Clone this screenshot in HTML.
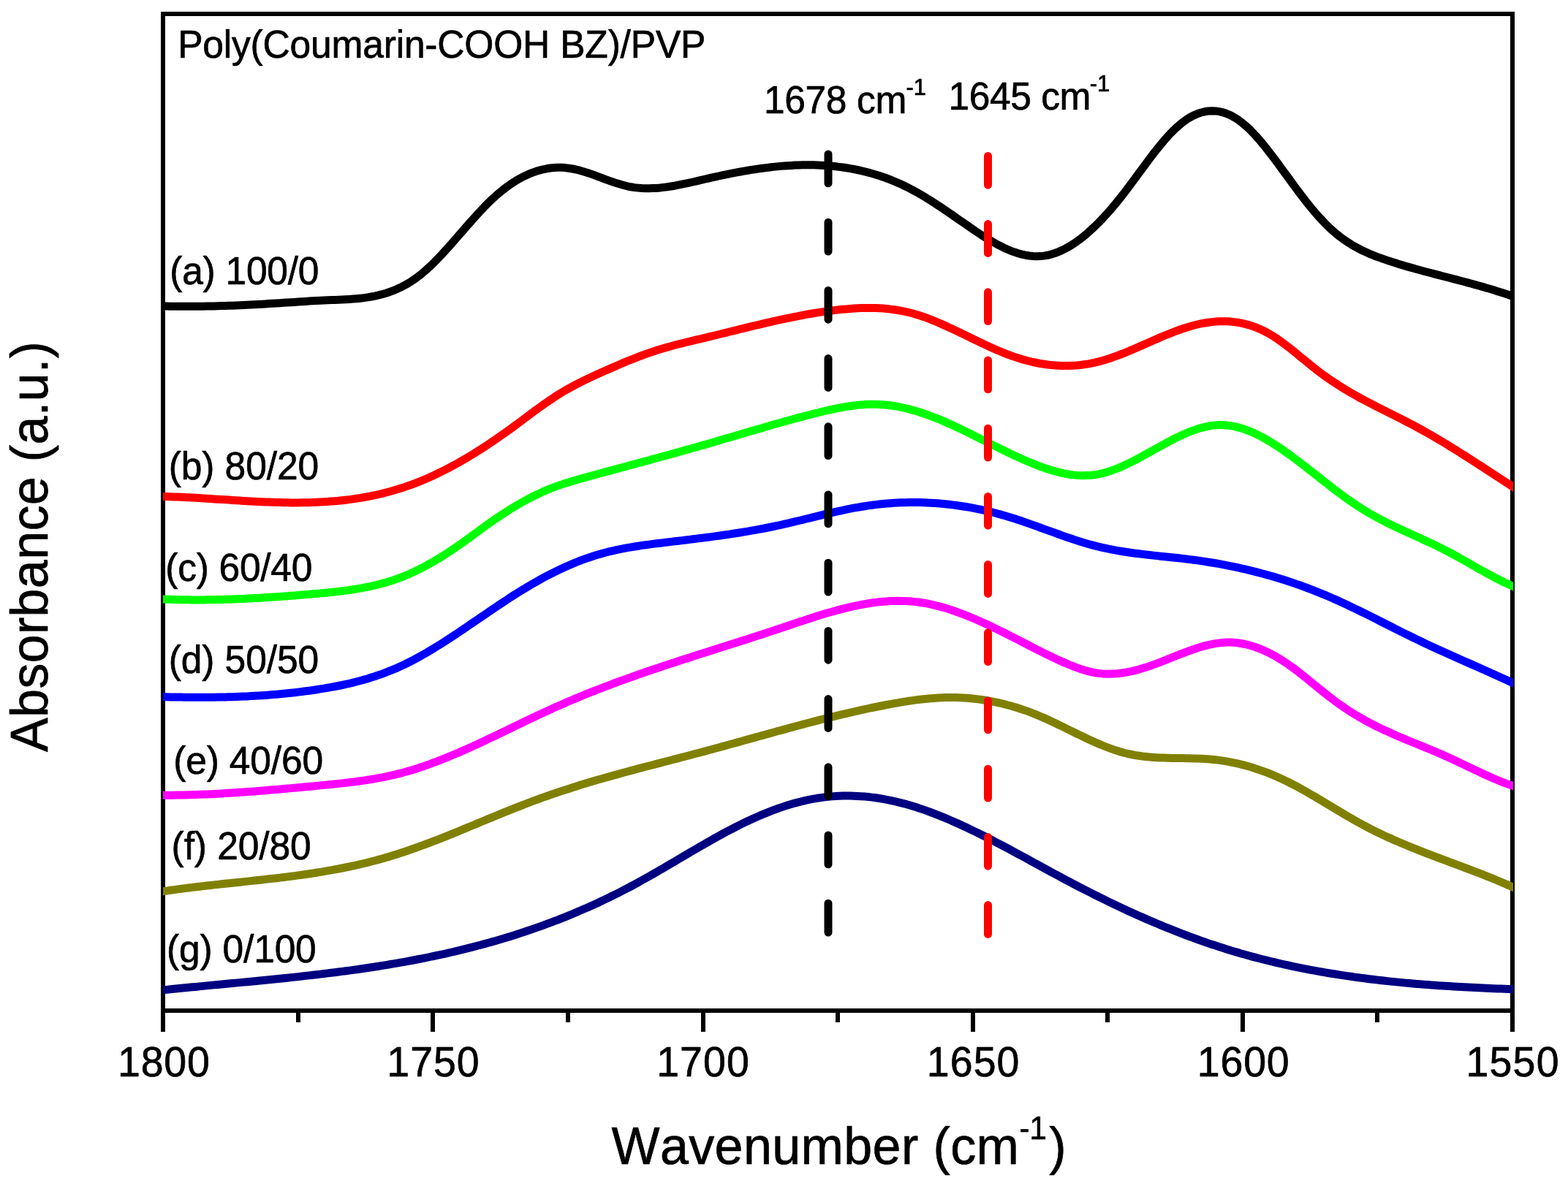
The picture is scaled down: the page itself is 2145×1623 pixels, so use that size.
<!DOCTYPE html>
<html lang="en">
<head>
<meta charset="utf-8">
<title>FTIR spectra of Poly(Coumarin-COOH BZ)/PVP blends</title>
<style>
html,body{margin:0;padding:0;background:#fff;}
body{width:2145px;height:1623px;overflow:hidden;}
svg{display:block;}
text{font-family:"Liberation Sans",Arial,Helvetica,sans-serif;fill:#000;stroke:#000;stroke-width:0.7px;stroke-linejoin:round;font-kerning:none;white-space:pre;}
.curve{fill:none;stroke-width:11;stroke-linejoin:round;stroke-linecap:butt;}
.axis rect{fill:#000;shape-rendering:crispEdges;}
.dash{fill:none;stroke-width:11;stroke-linecap:round;stroke-dasharray:39.8 53.4;}
</style>
</head>
<body>
<svg width="2145" height="1623" viewBox="0 0 2145 1623">
<rect x="0" y="0" width="2145" height="1623" fill="#ffffff"/>

<g class="axis">
<rect x="220" y="16" width="6" height="1396"/>
<rect x="2066" y="16" width="6" height="1396"/>
<rect x="220" y="16" width="1852" height="6"/>
<rect x="220" y="1380" width="1852" height="6"/>
<rect x="589" y="1383" width="6" height="29"/>
<rect x="959" y="1383" width="6" height="29"/>
<rect x="1328" y="1383" width="6" height="29"/>
<rect x="1697" y="1383" width="6" height="29"/>
<rect x="405" y="1383" width="6" height="16"/>
<rect x="774" y="1383" width="6" height="16"/>
<rect x="1143" y="1383" width="6" height="16"/>
<rect x="1512" y="1383" width="6" height="16"/>
<rect x="1881" y="1383" width="6" height="16"/>
</g>
<defs><clipPath id="plot"><rect x="223" y="22" width="1847" height="1358"/></clipPath></defs>
<g clip-path="url(#plot)">
<path class="curve" stroke="#000000" d="M213.0,418.8 L218.0,418.9 L223.0,419.0 L228.0,419.1 L233.0,419.2 L238.0,419.2 L243.0,419.3 L248.0,419.3 L253.0,419.3 L258.0,419.3 L263.0,419.3 L268.0,419.3 L273.0,419.2 L278.0,419.2 L283.0,419.1 L288.0,419.0 L293.0,418.9 L298.0,418.8 L303.0,418.6 L308.0,418.5 L313.0,418.3 L318.0,418.2 L323.0,418.0 L328.0,417.8 L333.0,417.5 L338.0,417.3 L343.0,417.1 L348.0,416.8 L353.0,416.5 L358.0,416.2 L363.0,415.9 L368.0,415.6 L373.0,415.3 L378.0,415.0 L383.0,414.7 L388.0,414.3 L393.0,414.0 L398.0,413.7 L403.0,413.4 L408.0,413.0 L413.0,412.7 L418.0,412.4 L423.0,412.1 L428.0,411.8 L433.0,411.5 L438.0,411.3 L443.0,411.0 L448.0,410.8 L453.0,410.6 L458.0,410.4 L463.0,410.2 L468.0,410.0 L473.0,409.7 L478.0,409.4 L483.0,409.1 L488.0,408.7 L493.0,408.2 L498.0,407.6 L503.0,406.9 L508.0,406.0 L513.0,405.1 L518.0,403.9 L523.0,402.7 L528.0,401.2 L533.0,399.5 L538.0,397.7 L543.0,395.6 L548.0,393.3 L553.0,390.7 L558.0,387.9 L563.0,384.8 L568.0,381.4 L573.0,377.7 L578.0,373.7 L583.0,369.4 L588.0,364.8 L593.0,360.0 L598.0,354.9 L603.0,349.7 L608.0,344.3 L613.0,338.8 L618.0,333.1 L623.0,327.4 L628.0,321.7 L633.0,316.0 L638.0,310.2 L643.0,304.5 L648.0,298.9 L653.0,293.4 L658.0,288.0 L663.0,282.7 L668.0,277.7 L673.0,272.8 L678.0,268.2 L683.0,263.9 L688.0,259.8 L693.0,256.0 L698.0,252.4 L703.0,249.1 L708.0,246.0 L713.0,243.2 L718.0,240.7 L723.0,238.4 L728.0,236.4 L733.0,234.6 L738.0,233.1 L743.0,231.8 L748.0,230.8 L753.0,230.0 L758.0,229.6 L763.0,229.3 L768.0,229.3 L773.0,229.6 L778.0,230.2 L783.0,231.0 L788.0,232.0 L793.0,233.2 L798.0,234.7 L803.0,236.2 L808.0,237.9 L813.0,239.7 L818.0,241.6 L823.0,243.4 L828.0,245.3 L833.0,247.1 L838.0,248.9 L843.0,250.6 L848.0,252.1 L853.0,253.5 L858.0,254.8 L863.0,255.8 L868.0,256.6 L873.0,257.1 L878.0,257.5 L883.0,257.7 L888.0,257.8 L893.0,257.6 L898.0,257.4 L903.0,257.0 L908.0,256.4 L913.0,255.8 L918.0,255.0 L923.0,254.2 L928.0,253.2 L933.0,252.2 L938.0,251.2 L943.0,250.1 L948.0,249.0 L953.0,247.8 L958.0,246.7 L963.0,245.5 L968.0,244.3 L973.0,243.2 L978.0,242.1 L983.0,241.0 L988.0,239.9 L993.0,238.9 L998.0,237.9 L1003.0,236.9 L1008.0,235.9 L1013.0,235.0 L1018.0,234.1 L1023.0,233.3 L1028.0,232.4 L1033.0,231.7 L1038.0,230.9 L1043.0,230.2 L1048.0,229.6 L1053.0,229.0 L1058.0,228.4 L1063.0,227.9 L1068.0,227.4 L1073.0,227.0 L1078.0,226.7 L1083.0,226.4 L1088.0,226.1 L1093.0,225.9 L1098.0,225.8 L1103.0,225.8 L1108.0,225.8 L1113.0,225.8 L1118.0,226.0 L1123.0,226.2 L1128.0,226.5 L1133.0,226.8 L1138.0,227.3 L1143.0,227.8 L1148.0,228.4 L1153.0,229.0 L1158.0,229.8 L1163.0,230.6 L1168.0,231.5 L1173.0,232.5 L1178.0,233.6 L1183.0,234.8 L1188.0,236.1 L1193.0,237.5 L1198.0,239.0 L1203.0,240.6 L1208.0,242.2 L1213.0,244.0 L1218.0,245.9 L1223.0,248.0 L1228.0,250.1 L1233.0,252.3 L1238.0,254.7 L1243.0,257.2 L1248.0,259.8 L1253.0,262.5 L1258.0,265.3 L1263.0,268.2 L1268.0,271.3 L1273.0,274.4 L1278.0,277.6 L1283.0,280.9 L1288.0,284.2 L1293.0,287.6 L1298.0,291.0 L1303.0,294.4 L1308.0,297.9 L1313.0,301.4 L1318.0,304.8 L1323.0,308.3 L1328.0,311.8 L1333.0,315.2 L1338.0,318.5 L1343.0,321.8 L1348.0,325.0 L1353.0,328.0 L1358.0,331.0 L1363.0,333.8 L1368.0,336.4 L1373.0,338.9 L1378.0,341.2 L1383.0,343.3 L1388.0,345.1 L1393.0,346.7 L1398.0,348.1 L1403.0,349.2 L1408.0,350.0 L1413.0,350.5 L1418.0,350.7 L1423.0,350.6 L1428.0,350.1 L1433.0,349.3 L1438.0,348.1 L1443.0,346.5 L1448.0,344.6 L1453.0,342.4 L1458.0,339.9 L1463.0,337.1 L1468.0,334.0 L1473.0,330.6 L1478.0,326.9 L1483.0,323.0 L1488.0,318.7 L1493.0,314.2 L1498.0,309.5 L1503.0,304.6 L1508.0,299.4 L1513.0,293.9 L1518.0,288.3 L1523.0,282.5 L1528.0,276.4 L1533.0,270.2 L1538.0,263.8 L1543.0,257.2 L1548.0,250.5 L1553.0,243.8 L1558.0,237.0 L1563.0,230.2 L1568.0,223.4 L1573.0,216.7 L1578.0,210.2 L1583.0,203.8 L1588.0,197.7 L1593.0,191.7 L1598.0,186.1 L1603.0,180.8 L1608.0,175.9 L1613.0,171.4 L1618.0,167.3 L1623.0,163.7 L1628.0,160.5 L1633.0,157.9 L1638.0,155.7 L1643.0,154.0 L1648.0,152.8 L1653.0,152.0 L1658.0,151.7 L1663.0,151.9 L1668.0,152.6 L1673.0,153.8 L1678.0,155.5 L1683.0,157.6 L1688.0,160.3 L1693.0,163.4 L1698.0,167.1 L1703.0,171.2 L1708.0,175.7 L1713.0,180.7 L1718.0,186.0 L1723.0,191.7 L1728.0,197.6 L1733.0,203.8 L1738.0,210.3 L1743.0,216.8 L1748.0,223.6 L1753.0,230.4 L1758.0,237.2 L1763.0,244.1 L1768.0,251.0 L1773.0,257.7 L1778.0,264.4 L1783.0,271.0 L1788.0,277.4 L1793.0,283.6 L1798.0,289.6 L1803.0,295.3 L1808.0,300.8 L1813.0,306.1 L1818.0,311.0 L1823.0,315.6 L1828.0,319.9 L1833.0,323.9 L1838.0,327.6 L1843.0,331.0 L1848.0,334.2 L1853.0,337.2 L1858.0,339.9 L1863.0,342.5 L1868.0,344.8 L1873.0,347.1 L1878.0,349.1 L1883.0,351.1 L1888.0,352.9 L1893.0,354.7 L1898.0,356.4 L1903.0,358.0 L1908.0,359.6 L1913.0,361.2 L1918.0,362.7 L1923.0,364.2 L1928.0,365.6 L1933.0,367.1 L1938.0,368.5 L1943.0,369.8 L1948.0,371.2 L1953.0,372.5 L1958.0,373.8 L1963.0,375.1 L1968.0,376.4 L1973.0,377.7 L1978.0,379.0 L1983.0,380.3 L1988.0,381.6 L1993.0,382.9 L1998.0,384.2 L2003.0,385.5 L2008.0,386.9 L2013.0,388.2 L2018.0,389.6 L2023.0,391.0 L2028.0,392.4 L2033.0,393.9 L2038.0,395.3 L2043.0,396.8 L2048.0,398.4 L2053.0,400.0 L2058.0,401.6 L2063.0,403.3 L2068.0,405.0 L2073.0,406.8 L2078.0,408.6"/>
<path class="curve" stroke="#ff0000" d="M213.0,679.3 L218.0,679.4 L223.0,679.5 L228.0,679.6 L233.0,679.8 L238.0,679.9 L243.0,680.1 L248.0,680.3 L253.0,680.6 L258.0,680.8 L263.0,681.1 L268.0,681.3 L273.0,681.6 L278.0,681.9 L283.0,682.2 L288.0,682.5 L293.0,682.9 L298.0,683.2 L303.0,683.5 L308.0,683.8 L313.0,684.1 L318.0,684.5 L323.0,684.8 L328.0,685.1 L333.0,685.4 L338.0,685.7 L343.0,686.0 L348.0,686.2 L353.0,686.5 L358.0,686.7 L363.0,686.9 L368.0,687.1 L373.0,687.3 L378.0,687.5 L383.0,687.6 L388.0,687.7 L393.0,687.8 L398.0,687.9 L403.0,687.9 L408.0,687.9 L413.0,687.8 L418.0,687.8 L423.0,687.7 L428.0,687.5 L433.0,687.3 L438.0,687.1 L443.0,686.8 L448.0,686.5 L453.0,686.1 L458.0,685.7 L463.0,685.3 L468.0,684.7 L473.0,684.2 L478.0,683.6 L483.0,682.9 L488.0,682.1 L493.0,681.4 L498.0,680.5 L503.0,679.6 L508.0,678.6 L513.0,677.6 L518.0,676.5 L523.0,675.3 L528.0,674.0 L533.0,672.7 L538.0,671.3 L543.0,669.8 L548.0,668.3 L553.0,666.7 L558.0,664.9 L563.0,663.2 L568.0,661.3 L573.0,659.3 L578.0,657.3 L583.0,655.2 L588.0,653.0 L593.0,650.7 L598.0,648.3 L603.0,645.9 L608.0,643.4 L613.0,640.8 L618.0,638.2 L623.0,635.5 L628.0,632.7 L633.0,629.8 L638.0,626.9 L643.0,623.9 L648.0,620.9 L653.0,617.7 L658.0,614.6 L663.0,611.3 L668.0,608.0 L673.0,604.7 L678.0,601.3 L683.0,597.8 L688.0,594.3 L693.0,590.8 L698.0,587.2 L703.0,583.5 L708.0,579.8 L713.0,576.1 L718.0,572.4 L723.0,568.6 L728.0,564.9 L733.0,561.2 L738.0,557.6 L743.0,554.0 L748.0,550.5 L753.0,547.1 L758.0,543.7 L763.0,540.5 L768.0,537.4 L773.0,534.4 L778.0,531.6 L783.0,528.9 L788.0,526.2 L793.0,523.7 L798.0,521.2 L803.0,518.8 L808.0,516.4 L813.0,514.1 L818.0,511.8 L823.0,509.5 L828.0,507.3 L833.0,505.1 L838.0,502.9 L843.0,500.7 L848.0,498.5 L853.0,496.4 L858.0,494.3 L863.0,492.3 L868.0,490.3 L873.0,488.4 L878.0,486.5 L883.0,484.7 L888.0,482.9 L893.0,481.2 L898.0,479.6 L903.0,478.0 L908.0,476.5 L913.0,475.1 L918.0,473.7 L923.0,472.3 L928.0,471.0 L933.0,469.8 L938.0,468.5 L943.0,467.3 L948.0,466.1 L953.0,464.9 L958.0,463.8 L963.0,462.6 L968.0,461.4 L973.0,460.2 L978.0,459.0 L983.0,457.7 L988.0,456.5 L993.0,455.3 L998.0,454.0 L1003.0,452.8 L1008.0,451.6 L1013.0,450.3 L1018.0,449.1 L1023.0,447.9 L1028.0,446.7 L1033.0,445.5 L1038.0,444.3 L1043.0,443.1 L1048.0,441.9 L1053.0,440.8 L1058.0,439.6 L1063.0,438.5 L1068.0,437.4 L1073.0,436.3 L1078.0,435.3 L1083.0,434.3 L1088.0,433.3 L1093.0,432.3 L1098.0,431.3 L1103.0,430.4 L1108.0,429.5 L1113.0,428.7 L1118.0,427.9 L1123.0,427.1 L1128.0,426.4 L1133.0,425.7 L1138.0,425.0 L1143.0,424.4 L1148.0,423.8 L1153.0,423.3 L1158.0,422.9 L1163.0,422.5 L1168.0,422.1 L1173.0,421.8 L1178.0,421.6 L1183.0,421.5 L1188.0,421.4 L1193.0,421.5 L1198.0,421.6 L1203.0,421.8 L1208.0,422.1 L1213.0,422.5 L1218.0,423.1 L1223.0,423.7 L1228.0,424.5 L1233.0,425.4 L1238.0,426.4 L1243.0,427.5 L1248.0,428.8 L1253.0,430.2 L1258.0,431.8 L1263.0,433.4 L1268.0,435.2 L1273.0,437.1 L1278.0,439.1 L1283.0,441.2 L1288.0,443.4 L1293.0,445.6 L1298.0,447.9 L1303.0,450.2 L1308.0,452.6 L1313.0,455.0 L1318.0,457.4 L1323.0,459.9 L1328.0,462.3 L1333.0,464.7 L1338.0,467.1 L1343.0,469.5 L1348.0,471.9 L1353.0,474.2 L1358.0,476.5 L1363.0,478.7 L1368.0,480.8 L1373.0,482.8 L1378.0,484.8 L1383.0,486.7 L1388.0,488.4 L1393.0,490.0 L1398.0,491.6 L1403.0,493.0 L1408.0,494.3 L1413.0,495.5 L1418.0,496.5 L1423.0,497.5 L1428.0,498.3 L1433.0,499.0 L1438.0,499.6 L1443.0,500.0 L1448.0,500.3 L1453.0,500.5 L1458.0,500.6 L1463.0,500.5 L1468.0,500.3 L1473.0,500.0 L1478.0,499.5 L1483.0,498.8 L1488.0,498.1 L1493.0,497.2 L1498.0,496.1 L1503.0,494.9 L1508.0,493.5 L1513.0,492.1 L1518.0,490.5 L1523.0,488.7 L1528.0,486.9 L1533.0,485.0 L1538.0,483.1 L1543.0,481.0 L1548.0,478.9 L1553.0,476.8 L1558.0,474.6 L1563.0,472.4 L1568.0,470.2 L1573.0,468.0 L1578.0,465.8 L1583.0,463.6 L1588.0,461.4 L1593.0,459.3 L1598.0,457.3 L1603.0,455.3 L1608.0,453.4 L1613.0,451.5 L1618.0,449.8 L1623.0,448.2 L1628.0,446.7 L1633.0,445.3 L1638.0,444.0 L1643.0,442.9 L1648.0,442.0 L1653.0,441.2 L1658.0,440.6 L1663.0,440.1 L1668.0,439.8 L1673.0,439.7 L1678.0,439.8 L1683.0,440.1 L1688.0,440.6 L1693.0,441.2 L1698.0,442.1 L1703.0,443.3 L1708.0,444.6 L1713.0,446.2 L1718.0,448.0 L1723.0,450.1 L1728.0,452.4 L1733.0,455.0 L1738.0,457.8 L1743.0,460.9 L1748.0,464.2 L1753.0,467.8 L1758.0,471.5 L1763.0,475.3 L1768.0,479.3 L1773.0,483.3 L1778.0,487.4 L1783.0,491.5 L1788.0,495.6 L1793.0,499.7 L1798.0,503.7 L1803.0,507.6 L1808.0,511.4 L1813.0,515.0 L1818.0,518.5 L1823.0,521.9 L1828.0,525.2 L1833.0,528.4 L1838.0,531.5 L1843.0,534.5 L1848.0,537.4 L1853.0,540.3 L1858.0,543.1 L1863.0,545.8 L1868.0,548.5 L1873.0,551.1 L1878.0,553.7 L1883.0,556.3 L1888.0,558.8 L1893.0,561.3 L1898.0,563.9 L1903.0,566.4 L1908.0,568.9 L1913.0,571.4 L1918.0,573.9 L1923.0,576.5 L1928.0,579.1 L1933.0,581.7 L1938.0,584.4 L1943.0,587.1 L1948.0,589.9 L1953.0,592.7 L1958.0,595.6 L1963.0,598.5 L1968.0,601.4 L1973.0,604.4 L1978.0,607.4 L1983.0,610.5 L1988.0,613.6 L1993.0,616.7 L1998.0,619.8 L2003.0,623.0 L2008.0,626.2 L2013.0,629.4 L2018.0,632.6 L2023.0,635.8 L2028.0,639.0 L2033.0,642.3 L2038.0,645.6 L2043.0,648.8 L2048.0,652.1 L2053.0,655.3 L2058.0,658.6 L2063.0,661.8 L2068.0,665.1 L2073.0,668.3 L2078.0,671.6"/>
<path class="curve" stroke="#00ff00" d="M213.0,819.6 L218.0,819.8 L223.0,820.0 L228.0,820.2 L233.0,820.3 L238.0,820.5 L243.0,820.6 L248.0,820.7 L253.0,820.8 L258.0,820.8 L263.0,820.9 L268.0,820.9 L273.0,820.9 L278.0,820.9 L283.0,820.8 L288.0,820.8 L293.0,820.7 L298.0,820.6 L303.0,820.5 L308.0,820.3 L313.0,820.2 L318.0,820.0 L323.0,819.8 L328.0,819.6 L333.0,819.4 L338.0,819.1 L343.0,818.9 L348.0,818.6 L353.0,818.4 L358.0,818.1 L363.0,817.8 L368.0,817.5 L373.0,817.1 L378.0,816.8 L383.0,816.4 L388.0,816.1 L393.0,815.7 L398.0,815.3 L403.0,814.9 L408.0,814.5 L413.0,814.1 L418.0,813.7 L423.0,813.3 L428.0,812.8 L433.0,812.4 L438.0,811.9 L443.0,811.5 L448.0,811.0 L453.0,810.5 L458.0,809.9 L463.0,809.4 L468.0,808.8 L473.0,808.1 L478.0,807.5 L483.0,806.7 L488.0,805.9 L493.0,805.1 L498.0,804.2 L503.0,803.2 L508.0,802.1 L513.0,801.0 L518.0,799.7 L523.0,798.4 L528.0,797.0 L533.0,795.5 L538.0,793.9 L543.0,792.1 L548.0,790.3 L553.0,788.3 L558.0,786.2 L563.0,784.0 L568.0,781.7 L573.0,779.3 L578.0,776.7 L583.0,774.1 L588.0,771.3 L593.0,768.5 L598.0,765.5 L603.0,762.5 L608.0,759.3 L613.0,756.1 L618.0,752.8 L623.0,749.4 L628.0,745.9 L633.0,742.4 L638.0,738.8 L643.0,735.2 L648.0,731.5 L653.0,727.9 L658.0,724.3 L663.0,720.6 L668.0,717.1 L673.0,713.5 L678.0,710.0 L683.0,706.6 L688.0,703.3 L693.0,700.1 L698.0,696.9 L703.0,693.8 L708.0,690.9 L713.0,688.0 L718.0,685.2 L723.0,682.5 L728.0,679.9 L733.0,677.5 L738.0,675.1 L743.0,672.8 L748.0,670.6 L753.0,668.6 L758.0,666.6 L763.0,664.8 L768.0,663.1 L773.0,661.4 L778.0,659.9 L783.0,658.4 L788.0,656.9 L793.0,655.5 L798.0,654.1 L803.0,652.8 L808.0,651.4 L813.0,650.0 L818.0,648.7 L823.0,647.3 L828.0,645.9 L833.0,644.6 L838.0,643.2 L843.0,641.9 L848.0,640.5 L853.0,639.2 L858.0,637.8 L863.0,636.5 L868.0,635.1 L873.0,633.8 L878.0,632.4 L883.0,631.1 L888.0,629.7 L893.0,628.3 L898.0,627.0 L903.0,625.6 L908.0,624.2 L913.0,622.9 L918.0,621.5 L923.0,620.1 L928.0,618.7 L933.0,617.3 L938.0,615.9 L943.0,614.5 L948.0,613.1 L953.0,611.7 L958.0,610.3 L963.0,608.9 L968.0,607.4 L973.0,606.0 L978.0,604.5 L983.0,603.1 L988.0,601.6 L993.0,600.1 L998.0,598.7 L1003.0,597.2 L1008.0,595.7 L1013.0,594.3 L1018.0,592.8 L1023.0,591.3 L1028.0,589.8 L1033.0,588.4 L1038.0,586.9 L1043.0,585.5 L1048.0,584.0 L1053.0,582.6 L1058.0,581.1 L1063.0,579.7 L1068.0,578.3 L1073.0,576.9 L1078.0,575.5 L1083.0,574.2 L1088.0,572.8 L1093.0,571.4 L1098.0,570.1 L1103.0,568.8 L1108.0,567.5 L1113.0,566.2 L1118.0,565.0 L1123.0,563.7 L1128.0,562.5 L1133.0,561.4 L1138.0,560.3 L1143.0,559.2 L1148.0,558.2 L1153.0,557.3 L1158.0,556.4 L1163.0,555.7 L1168.0,555.0 L1173.0,554.4 L1178.0,553.9 L1183.0,553.6 L1188.0,553.3 L1193.0,553.2 L1198.0,553.3 L1203.0,553.4 L1208.0,553.7 L1213.0,554.2 L1218.0,554.8 L1223.0,555.5 L1228.0,556.4 L1233.0,557.4 L1238.0,558.5 L1243.0,559.7 L1248.0,561.1 L1253.0,562.5 L1258.0,564.0 L1263.0,565.7 L1268.0,567.4 L1273.0,569.3 L1278.0,571.2 L1283.0,573.2 L1288.0,575.2 L1293.0,577.4 L1298.0,579.6 L1303.0,581.8 L1308.0,584.2 L1313.0,586.5 L1318.0,588.9 L1323.0,591.4 L1328.0,593.8 L1333.0,596.3 L1338.0,598.8 L1343.0,601.3 L1348.0,603.8 L1353.0,606.4 L1358.0,608.9 L1363.0,611.4 L1368.0,613.9 L1373.0,616.3 L1378.0,618.7 L1383.0,621.1 L1388.0,623.5 L1393.0,625.8 L1398.0,628.0 L1403.0,630.2 L1408.0,632.3 L1413.0,634.4 L1418.0,636.4 L1423.0,638.3 L1428.0,640.1 L1433.0,641.8 L1438.0,643.4 L1443.0,644.8 L1448.0,646.1 L1453.0,647.3 L1458.0,648.4 L1463.0,649.2 L1468.0,649.9 L1473.0,650.4 L1478.0,650.7 L1483.0,650.8 L1488.0,650.6 L1493.0,650.3 L1498.0,649.7 L1503.0,648.8 L1508.0,647.7 L1513.0,646.4 L1518.0,644.8 L1523.0,643.1 L1528.0,641.2 L1533.0,639.1 L1538.0,636.9 L1543.0,634.6 L1548.0,632.1 L1553.0,629.5 L1558.0,626.9 L1563.0,624.2 L1568.0,621.4 L1573.0,618.6 L1578.0,615.8 L1583.0,613.0 L1588.0,610.3 L1593.0,607.5 L1598.0,604.8 L1603.0,602.2 L1608.0,599.7 L1613.0,597.2 L1618.0,594.9 L1623.0,592.7 L1628.0,590.6 L1633.0,588.8 L1638.0,587.1 L1643.0,585.6 L1648.0,584.3 L1653.0,583.2 L1658.0,582.4 L1663.0,581.9 L1668.0,581.6 L1673.0,581.6 L1678.0,582.0 L1683.0,582.6 L1688.0,583.4 L1693.0,584.6 L1698.0,586.0 L1703.0,587.6 L1708.0,589.5 L1713.0,591.5 L1718.0,593.8 L1723.0,596.3 L1728.0,598.9 L1733.0,601.7 L1738.0,604.7 L1743.0,607.8 L1748.0,611.0 L1753.0,614.4 L1758.0,617.9 L1763.0,621.5 L1768.0,625.1 L1773.0,628.8 L1778.0,632.6 L1783.0,636.5 L1788.0,640.4 L1793.0,644.3 L1798.0,648.2 L1803.0,652.1 L1808.0,656.1 L1813.0,660.0 L1818.0,663.9 L1823.0,667.8 L1828.0,671.6 L1833.0,675.4 L1838.0,679.1 L1843.0,682.7 L1848.0,686.2 L1853.0,689.6 L1858.0,692.9 L1863.0,696.1 L1868.0,699.2 L1873.0,702.2 L1878.0,705.0 L1883.0,707.8 L1888.0,710.5 L1893.0,713.1 L1898.0,715.6 L1903.0,718.1 L1908.0,720.5 L1913.0,722.9 L1918.0,725.2 L1923.0,727.5 L1928.0,729.8 L1933.0,732.1 L1938.0,734.3 L1943.0,736.6 L1948.0,738.9 L1953.0,741.2 L1958.0,743.5 L1963.0,745.9 L1968.0,748.4 L1973.0,750.8 L1978.0,753.4 L1983.0,756.0 L1988.0,758.7 L1993.0,761.4 L1998.0,764.2 L2003.0,767.0 L2008.0,769.8 L2013.0,772.7 L2018.0,775.5 L2023.0,778.4 L2028.0,781.2 L2033.0,784.0 L2038.0,786.7 L2043.0,789.4 L2048.0,792.0 L2053.0,794.5 L2058.0,797.0 L2063.0,799.3 L2068.0,801.6 L2073.0,803.7 L2078.0,805.9"/>
<path class="curve" stroke="#0000ff" d="M213.0,953.4 L218.0,953.5 L223.0,953.6 L228.0,953.7 L233.0,953.9 L238.0,954.0 L243.0,954.1 L248.0,954.1 L253.0,954.2 L258.0,954.3 L263.0,954.3 L268.0,954.3 L273.0,954.3 L278.0,954.3 L283.0,954.3 L288.0,954.3 L293.0,954.2 L298.0,954.1 L303.0,954.1 L308.0,953.9 L313.0,953.8 L318.0,953.7 L323.0,953.5 L328.0,953.3 L333.0,953.1 L338.0,952.9 L343.0,952.6 L348.0,952.3 L353.0,952.0 L358.0,951.7 L363.0,951.4 L368.0,951.0 L373.0,950.6 L378.0,950.2 L383.0,949.7 L388.0,949.3 L393.0,948.8 L398.0,948.2 L403.0,947.7 L408.0,947.1 L413.0,946.5 L418.0,945.8 L423.0,945.2 L428.0,944.5 L433.0,943.7 L438.0,942.9 L443.0,942.1 L448.0,941.3 L453.0,940.4 L458.0,939.5 L463.0,938.5 L468.0,937.5 L473.0,936.4 L478.0,935.3 L483.0,934.1 L488.0,932.8 L493.0,931.5 L498.0,930.1 L503.0,928.7 L508.0,927.1 L513.0,925.5 L518.0,923.8 L523.0,922.1 L528.0,920.2 L533.0,918.2 L538.0,916.2 L543.0,914.1 L548.0,911.8 L553.0,909.5 L558.0,907.0 L563.0,904.5 L568.0,901.9 L573.0,899.1 L578.0,896.3 L583.0,893.5 L588.0,890.5 L593.0,887.5 L598.0,884.4 L603.0,881.3 L608.0,878.1 L613.0,874.9 L618.0,871.6 L623.0,868.3 L628.0,865.0 L633.0,861.6 L638.0,858.2 L643.0,854.8 L648.0,851.4 L653.0,848.0 L658.0,844.6 L663.0,841.2 L668.0,837.8 L673.0,834.4 L678.0,831.0 L683.0,827.6 L688.0,824.3 L693.0,821.0 L698.0,817.7 L703.0,814.5 L708.0,811.4 L713.0,808.2 L718.0,805.2 L723.0,802.2 L728.0,799.3 L733.0,796.4 L738.0,793.6 L743.0,790.8 L748.0,788.2 L753.0,785.6 L758.0,783.1 L763.0,780.6 L768.0,778.2 L773.0,775.9 L778.0,773.7 L783.0,771.6 L788.0,769.5 L793.0,767.5 L798.0,765.7 L803.0,763.9 L808.0,762.2 L813.0,760.5 L818.0,759.0 L823.0,757.6 L828.0,756.2 L833.0,754.9 L838.0,753.8 L843.0,752.6 L848.0,751.6 L853.0,750.6 L858.0,749.7 L863.0,748.8 L868.0,748.0 L873.0,747.2 L878.0,746.4 L883.0,745.7 L888.0,745.1 L893.0,744.4 L898.0,743.8 L903.0,743.2 L908.0,742.6 L913.0,742.0 L918.0,741.4 L923.0,740.8 L928.0,740.2 L933.0,739.6 L938.0,739.0 L943.0,738.4 L948.0,737.8 L953.0,737.1 L958.0,736.5 L963.0,735.9 L968.0,735.2 L973.0,734.6 L978.0,733.9 L983.0,733.2 L988.0,732.5 L993.0,731.8 L998.0,731.1 L1003.0,730.3 L1008.0,729.5 L1013.0,728.7 L1018.0,727.9 L1023.0,727.1 L1028.0,726.2 L1033.0,725.3 L1038.0,724.4 L1043.0,723.5 L1048.0,722.5 L1053.0,721.5 L1058.0,720.5 L1063.0,719.4 L1068.0,718.3 L1073.0,717.2 L1078.0,716.1 L1083.0,714.9 L1088.0,713.7 L1093.0,712.5 L1098.0,711.3 L1103.0,710.0 L1108.0,708.8 L1113.0,707.6 L1118.0,706.4 L1123.0,705.1 L1128.0,703.9 L1133.0,702.8 L1138.0,701.6 L1143.0,700.4 L1148.0,699.3 L1153.0,698.3 L1158.0,697.2 L1163.0,696.2 L1168.0,695.2 L1173.0,694.3 L1178.0,693.5 L1183.0,692.7 L1188.0,691.9 L1193.0,691.2 L1198.0,690.6 L1203.0,690.0 L1208.0,689.5 L1213.0,689.1 L1218.0,688.7 L1223.0,688.3 L1228.0,688.0 L1233.0,687.8 L1238.0,687.7 L1243.0,687.6 L1248.0,687.5 L1253.0,687.5 L1258.0,687.6 L1263.0,687.7 L1268.0,687.9 L1273.0,688.2 L1278.0,688.5 L1283.0,688.8 L1288.0,689.3 L1293.0,689.7 L1298.0,690.3 L1303.0,690.9 L1308.0,691.5 L1313.0,692.2 L1318.0,693.0 L1323.0,693.8 L1328.0,694.7 L1333.0,695.7 L1338.0,696.7 L1343.0,697.7 L1348.0,698.8 L1353.0,700.0 L1358.0,701.2 L1363.0,702.5 L1368.0,703.9 L1373.0,705.3 L1378.0,706.7 L1383.0,708.3 L1388.0,709.8 L1393.0,711.5 L1398.0,713.1 L1403.0,714.9 L1408.0,716.6 L1413.0,718.4 L1418.0,720.2 L1423.0,722.0 L1428.0,723.8 L1433.0,725.6 L1438.0,727.4 L1443.0,729.2 L1448.0,731.0 L1453.0,732.8 L1458.0,734.6 L1463.0,736.3 L1468.0,737.9 L1473.0,739.6 L1478.0,741.2 L1483.0,742.7 L1488.0,744.2 L1493.0,745.6 L1498.0,746.9 L1503.0,748.2 L1508.0,749.3 L1513.0,750.4 L1518.0,751.5 L1523.0,752.4 L1528.0,753.4 L1533.0,754.2 L1538.0,755.0 L1543.0,755.8 L1548.0,756.5 L1553.0,757.2 L1558.0,757.8 L1563.0,758.4 L1568.0,759.0 L1573.0,759.5 L1578.0,760.1 L1583.0,760.6 L1588.0,761.2 L1593.0,761.7 L1598.0,762.2 L1603.0,762.7 L1608.0,763.3 L1613.0,763.8 L1618.0,764.4 L1623.0,765.0 L1628.0,765.6 L1633.0,766.2 L1638.0,766.9 L1643.0,767.6 L1648.0,768.4 L1653.0,769.2 L1658.0,770.0 L1663.0,770.8 L1668.0,771.7 L1673.0,772.6 L1678.0,773.6 L1683.0,774.6 L1688.0,775.6 L1693.0,776.7 L1698.0,777.8 L1703.0,778.9 L1708.0,780.1 L1713.0,781.3 L1718.0,782.6 L1723.0,783.9 L1728.0,785.2 L1733.0,786.6 L1738.0,788.0 L1743.0,789.4 L1748.0,790.9 L1753.0,792.5 L1758.0,794.1 L1763.0,795.7 L1768.0,797.4 L1773.0,799.1 L1778.0,800.8 L1783.0,802.6 L1788.0,804.5 L1793.0,806.4 L1798.0,808.3 L1803.0,810.3 L1808.0,812.3 L1813.0,814.4 L1818.0,816.5 L1823.0,818.7 L1828.0,820.9 L1833.0,823.2 L1838.0,825.5 L1843.0,827.8 L1848.0,830.2 L1853.0,832.6 L1858.0,835.0 L1863.0,837.5 L1868.0,839.9 L1873.0,842.4 L1878.0,844.9 L1883.0,847.4 L1888.0,850.0 L1893.0,852.5 L1898.0,855.0 L1903.0,857.5 L1908.0,860.1 L1913.0,862.6 L1918.0,865.1 L1923.0,867.6 L1928.0,870.0 L1933.0,872.5 L1938.0,874.9 L1943.0,877.3 L1948.0,879.7 L1953.0,882.1 L1958.0,884.4 L1963.0,886.7 L1968.0,889.0 L1973.0,891.3 L1978.0,893.5 L1983.0,895.8 L1988.0,898.0 L1993.0,900.3 L1998.0,902.5 L2003.0,904.7 L2008.0,906.9 L2013.0,909.1 L2018.0,911.3 L2023.0,913.6 L2028.0,915.8 L2033.0,918.0 L2038.0,920.2 L2043.0,922.5 L2048.0,924.7 L2053.0,927.0 L2058.0,929.3 L2063.0,931.6 L2068.0,933.9 L2073.0,936.2 L2078.0,938.5"/>
<path class="curve" stroke="#ff00ff" d="M213.0,1088.2 L218.0,1088.2 L223.0,1088.2 L228.0,1088.2 L233.0,1088.2 L238.0,1088.2 L243.0,1088.1 L248.0,1088.0 L253.0,1087.9 L258.0,1087.8 L263.0,1087.6 L268.0,1087.5 L273.0,1087.3 L278.0,1087.1 L283.0,1086.9 L288.0,1086.7 L293.0,1086.4 L298.0,1086.2 L303.0,1085.9 L308.0,1085.6 L313.0,1085.3 L318.0,1085.0 L323.0,1084.7 L328.0,1084.3 L333.0,1084.0 L338.0,1083.6 L343.0,1083.3 L348.0,1082.9 L353.0,1082.5 L358.0,1082.1 L363.0,1081.7 L368.0,1081.3 L373.0,1080.8 L378.0,1080.4 L383.0,1080.0 L388.0,1079.5 L393.0,1079.1 L398.0,1078.6 L403.0,1078.2 L408.0,1077.7 L413.0,1077.3 L418.0,1076.8 L423.0,1076.3 L428.0,1075.9 L433.0,1075.4 L438.0,1074.9 L443.0,1074.4 L448.0,1073.9 L453.0,1073.5 L458.0,1072.9 L463.0,1072.4 L468.0,1071.9 L473.0,1071.3 L478.0,1070.7 L483.0,1070.1 L488.0,1069.5 L493.0,1068.8 L498.0,1068.1 L503.0,1067.3 L508.0,1066.5 L513.0,1065.6 L518.0,1064.7 L523.0,1063.8 L528.0,1062.8 L533.0,1061.7 L538.0,1060.6 L543.0,1059.4 L548.0,1058.1 L553.0,1056.8 L558.0,1055.4 L563.0,1053.9 L568.0,1052.4 L573.0,1050.8 L578.0,1049.1 L583.0,1047.4 L588.0,1045.6 L593.0,1043.7 L598.0,1041.9 L603.0,1039.9 L608.0,1037.9 L613.0,1035.9 L618.0,1033.8 L623.0,1031.7 L628.0,1029.6 L633.0,1027.4 L638.0,1025.2 L643.0,1022.9 L648.0,1020.7 L653.0,1018.4 L658.0,1016.0 L663.0,1013.7 L668.0,1011.3 L673.0,1009.0 L678.0,1006.6 L683.0,1004.2 L688.0,1001.8 L693.0,999.4 L698.0,997.0 L703.0,994.5 L708.0,992.1 L713.0,989.7 L718.0,987.3 L723.0,984.9 L728.0,982.5 L733.0,980.2 L738.0,977.8 L743.0,975.5 L748.0,973.2 L753.0,970.9 L758.0,968.6 L763.0,966.4 L768.0,964.2 L773.0,962.0 L778.0,959.8 L783.0,957.7 L788.0,955.6 L793.0,953.5 L798.0,951.5 L803.0,949.4 L808.0,947.4 L813.0,945.5 L818.0,943.5 L823.0,941.6 L828.0,939.7 L833.0,937.8 L838.0,935.9 L843.0,934.0 L848.0,932.2 L853.0,930.4 L858.0,928.6 L863.0,926.8 L868.0,925.0 L873.0,923.2 L878.0,921.5 L883.0,919.8 L888.0,918.0 L893.0,916.3 L898.0,914.7 L903.0,913.0 L908.0,911.3 L913.0,909.6 L918.0,908.0 L923.0,906.4 L928.0,904.7 L933.0,903.1 L938.0,901.5 L943.0,899.9 L948.0,898.3 L953.0,896.6 L958.0,895.1 L963.0,893.5 L968.0,891.9 L973.0,890.3 L978.0,888.7 L983.0,887.1 L988.0,885.5 L993.0,883.9 L998.0,882.3 L1003.0,880.7 L1008.0,879.2 L1013.0,877.6 L1018.0,876.0 L1023.0,874.4 L1028.0,872.8 L1033.0,871.1 L1038.0,869.5 L1043.0,867.9 L1048.0,866.3 L1053.0,864.6 L1058.0,863.0 L1063.0,861.3 L1068.0,859.6 L1073.0,858.0 L1078.0,856.3 L1083.0,854.6 L1088.0,852.9 L1093.0,851.3 L1098.0,849.6 L1103.0,848.0 L1108.0,846.3 L1113.0,844.7 L1118.0,843.1 L1123.0,841.6 L1128.0,840.1 L1133.0,838.6 L1138.0,837.2 L1143.0,835.8 L1148.0,834.4 L1153.0,833.1 L1158.0,831.9 L1163.0,830.7 L1168.0,829.6 L1173.0,828.5 L1178.0,827.5 L1183.0,826.6 L1188.0,825.8 L1193.0,825.0 L1198.0,824.4 L1203.0,823.8 L1208.0,823.3 L1213.0,822.9 L1218.0,822.6 L1223.0,822.4 L1228.0,822.3 L1233.0,822.4 L1238.0,822.5 L1243.0,822.8 L1248.0,823.1 L1253.0,823.6 L1258.0,824.3 L1263.0,825.0 L1268.0,825.9 L1273.0,826.9 L1278.0,828.1 L1283.0,829.3 L1288.0,830.6 L1293.0,832.1 L1298.0,833.6 L1303.0,835.3 L1308.0,837.0 L1313.0,838.8 L1318.0,840.7 L1323.0,842.6 L1328.0,844.7 L1333.0,846.8 L1338.0,849.0 L1343.0,851.2 L1348.0,853.5 L1353.0,855.8 L1358.0,858.2 L1363.0,860.6 L1368.0,863.1 L1373.0,865.5 L1378.0,868.1 L1383.0,870.6 L1388.0,873.2 L1393.0,875.7 L1398.0,878.3 L1403.0,880.9 L1408.0,883.5 L1413.0,886.1 L1418.0,888.6 L1423.0,891.1 L1428.0,893.6 L1433.0,896.1 L1438.0,898.5 L1443.0,900.9 L1448.0,903.2 L1453.0,905.4 L1458.0,907.6 L1463.0,909.7 L1468.0,911.7 L1473.0,913.6 L1478.0,915.4 L1483.0,917.0 L1488.0,918.4 L1493.0,919.6 L1498.0,920.7 L1503.0,921.4 L1508.0,921.9 L1513.0,922.2 L1518.0,922.3 L1523.0,922.1 L1528.0,921.8 L1533.0,921.3 L1538.0,920.5 L1543.0,919.6 L1548.0,918.6 L1553.0,917.4 L1558.0,916.1 L1563.0,914.6 L1568.0,913.1 L1573.0,911.4 L1578.0,909.6 L1583.0,907.8 L1588.0,905.9 L1593.0,903.9 L1598.0,901.9 L1603.0,899.9 L1608.0,897.9 L1613.0,895.9 L1618.0,894.0 L1623.0,892.1 L1628.0,890.2 L1633.0,888.5 L1638.0,886.8 L1643.0,885.3 L1648.0,883.8 L1653.0,882.6 L1658.0,881.5 L1663.0,880.6 L1668.0,879.9 L1673.0,879.4 L1678.0,879.1 L1683.0,879.1 L1688.0,879.3 L1693.0,879.8 L1698.0,880.5 L1703.0,881.5 L1708.0,882.7 L1713.0,884.1 L1718.0,885.8 L1723.0,887.6 L1728.0,889.7 L1733.0,892.0 L1738.0,894.4 L1743.0,897.1 L1748.0,900.0 L1753.0,903.1 L1758.0,906.3 L1763.0,909.7 L1768.0,913.3 L1773.0,917.0 L1778.0,920.9 L1783.0,924.8 L1788.0,928.8 L1793.0,932.9 L1798.0,937.0 L1803.0,941.1 L1808.0,945.1 L1813.0,949.1 L1818.0,953.1 L1823.0,956.9 L1828.0,960.6 L1833.0,964.2 L1838.0,967.6 L1843.0,971.0 L1848.0,974.3 L1853.0,977.4 L1858.0,980.4 L1863.0,983.3 L1868.0,986.1 L1873.0,988.8 L1878.0,991.4 L1883.0,994.0 L1888.0,996.4 L1893.0,998.8 L1898.0,1001.1 L1903.0,1003.3 L1908.0,1005.5 L1913.0,1007.7 L1918.0,1009.8 L1923.0,1011.9 L1928.0,1014.0 L1933.0,1016.0 L1938.0,1018.0 L1943.0,1020.1 L1948.0,1022.1 L1953.0,1024.2 L1958.0,1026.3 L1963.0,1028.3 L1968.0,1030.5 L1973.0,1032.6 L1978.0,1034.9 L1983.0,1037.1 L1988.0,1039.5 L1993.0,1041.8 L1998.0,1044.2 L2003.0,1046.6 L2008.0,1049.0 L2013.0,1051.4 L2018.0,1053.8 L2023.0,1056.1 L2028.0,1058.5 L2033.0,1060.8 L2038.0,1063.0 L2043.0,1065.2 L2048.0,1067.3 L2053.0,1069.3 L2058.0,1071.3 L2063.0,1073.1 L2068.0,1074.8 L2073.0,1076.4 L2078.0,1078.0"/>
<path class="curve" stroke="#808000" d="M213.0,1221.3 L218.0,1220.6 L223.0,1219.8 L228.0,1219.1 L233.0,1218.3 L238.0,1217.6 L243.0,1216.9 L248.0,1216.3 L253.0,1215.6 L258.0,1215.0 L263.0,1214.4 L268.0,1213.8 L273.0,1213.2 L278.0,1212.6 L283.0,1212.0 L288.0,1211.5 L293.0,1210.9 L298.0,1210.4 L303.0,1209.8 L308.0,1209.3 L313.0,1208.7 L318.0,1208.2 L323.0,1207.7 L328.0,1207.2 L333.0,1206.6 L338.0,1206.1 L343.0,1205.6 L348.0,1205.0 L353.0,1204.5 L358.0,1204.0 L363.0,1203.4 L368.0,1202.8 L373.0,1202.3 L378.0,1201.7 L383.0,1201.1 L388.0,1200.5 L393.0,1199.9 L398.0,1199.2 L403.0,1198.6 L408.0,1197.9 L413.0,1197.2 L418.0,1196.5 L423.0,1195.8 L428.0,1195.0 L433.0,1194.2 L438.0,1193.4 L443.0,1192.6 L448.0,1191.7 L453.0,1190.9 L458.0,1189.9 L463.0,1189.0 L468.0,1188.0 L473.0,1187.0 L478.0,1186.0 L483.0,1184.9 L488.0,1183.8 L493.0,1182.7 L498.0,1181.5 L503.0,1180.3 L508.0,1179.0 L513.0,1177.7 L518.0,1176.4 L523.0,1175.0 L528.0,1173.5 L533.0,1172.1 L538.0,1170.5 L543.0,1169.0 L548.0,1167.3 L553.0,1165.7 L558.0,1164.0 L563.0,1162.3 L568.0,1160.5 L573.0,1158.7 L578.0,1156.9 L583.0,1155.0 L588.0,1153.1 L593.0,1151.2 L598.0,1149.3 L603.0,1147.3 L608.0,1145.3 L613.0,1143.3 L618.0,1141.3 L623.0,1139.3 L628.0,1137.2 L633.0,1135.2 L638.0,1133.1 L643.0,1131.0 L648.0,1129.0 L653.0,1126.9 L658.0,1124.8 L663.0,1122.7 L668.0,1120.7 L673.0,1118.6 L678.0,1116.5 L683.0,1114.5 L688.0,1112.4 L693.0,1110.4 L698.0,1108.4 L703.0,1106.4 L708.0,1104.4 L713.0,1102.5 L718.0,1100.5 L723.0,1098.6 L728.0,1096.7 L733.0,1094.9 L738.0,1093.0 L743.0,1091.2 L748.0,1089.5 L753.0,1087.7 L758.0,1086.0 L763.0,1084.3 L768.0,1082.6 L773.0,1081.0 L778.0,1079.4 L783.0,1077.8 L788.0,1076.2 L793.0,1074.6 L798.0,1073.1 L803.0,1071.6 L808.0,1070.1 L813.0,1068.6 L818.0,1067.1 L823.0,1065.7 L828.0,1064.3 L833.0,1062.9 L838.0,1061.4 L843.0,1060.1 L848.0,1058.7 L853.0,1057.3 L858.0,1056.0 L863.0,1054.6 L868.0,1053.3 L873.0,1051.9 L878.0,1050.6 L883.0,1049.3 L888.0,1048.0 L893.0,1046.7 L898.0,1045.4 L903.0,1044.1 L908.0,1042.8 L913.0,1041.5 L918.0,1040.2 L923.0,1038.9 L928.0,1037.6 L933.0,1036.3 L938.0,1035.0 L943.0,1033.7 L948.0,1032.3 L953.0,1031.0 L958.0,1029.7 L963.0,1028.4 L968.0,1027.0 L973.0,1025.7 L978.0,1024.3 L983.0,1023.0 L988.0,1021.6 L993.0,1020.2 L998.0,1018.8 L1003.0,1017.5 L1008.0,1016.1 L1013.0,1014.7 L1018.0,1013.3 L1023.0,1011.9 L1028.0,1010.5 L1033.0,1009.1 L1038.0,1007.8 L1043.0,1006.4 L1048.0,1005.0 L1053.0,1003.6 L1058.0,1002.2 L1063.0,1000.8 L1068.0,999.5 L1073.0,998.1 L1078.0,996.7 L1083.0,995.4 L1088.0,994.0 L1093.0,992.7 L1098.0,991.4 L1103.0,990.0 L1108.0,988.7 L1113.0,987.4 L1118.0,986.1 L1123.0,984.8 L1128.0,983.6 L1133.0,982.3 L1138.0,981.1 L1143.0,979.9 L1148.0,978.6 L1153.0,977.4 L1158.0,976.3 L1163.0,975.1 L1168.0,974.0 L1173.0,972.8 L1178.0,971.7 L1183.0,970.6 L1188.0,969.5 L1193.0,968.5 L1198.0,967.5 L1203.0,966.5 L1208.0,965.5 L1213.0,964.5 L1218.0,963.6 L1223.0,962.7 L1228.0,961.8 L1233.0,960.9 L1238.0,960.1 L1243.0,959.3 L1248.0,958.6 L1253.0,957.9 L1258.0,957.3 L1263.0,956.7 L1268.0,956.2 L1273.0,955.8 L1278.0,955.4 L1283.0,955.1 L1288.0,954.8 L1293.0,954.6 L1298.0,954.5 L1303.0,954.5 L1308.0,954.6 L1313.0,954.8 L1318.0,955.0 L1323.0,955.3 L1328.0,955.8 L1333.0,956.3 L1338.0,956.9 L1343.0,957.5 L1348.0,958.3 L1353.0,959.1 L1358.0,960.1 L1363.0,961.1 L1368.0,962.2 L1373.0,963.4 L1378.0,964.7 L1383.0,966.0 L1388.0,967.5 L1393.0,969.1 L1398.0,970.7 L1403.0,972.4 L1408.0,974.2 L1413.0,976.1 L1418.0,978.1 L1423.0,980.2 L1428.0,982.4 L1433.0,984.6 L1438.0,986.9 L1443.0,989.3 L1448.0,991.7 L1453.0,994.1 L1458.0,996.6 L1463.0,999.1 L1468.0,1001.5 L1473.0,1004.0 L1478.0,1006.4 L1483.0,1008.8 L1488.0,1011.2 L1493.0,1013.5 L1498.0,1015.7 L1503.0,1017.9 L1508.0,1020.0 L1513.0,1022.0 L1518.0,1023.9 L1523.0,1025.7 L1528.0,1027.3 L1533.0,1028.9 L1538.0,1030.2 L1543.0,1031.5 L1548.0,1032.5 L1553.0,1033.5 L1558.0,1034.3 L1563.0,1035.0 L1568.0,1035.5 L1573.0,1036.0 L1578.0,1036.4 L1583.0,1036.7 L1588.0,1036.9 L1593.0,1037.1 L1598.0,1037.3 L1603.0,1037.4 L1608.0,1037.5 L1613.0,1037.5 L1618.0,1037.6 L1623.0,1037.7 L1628.0,1037.8 L1633.0,1037.9 L1638.0,1038.0 L1643.0,1038.2 L1648.0,1038.5 L1653.0,1038.8 L1658.0,1039.2 L1663.0,1039.8 L1668.0,1040.4 L1673.0,1041.1 L1678.0,1041.9 L1683.0,1042.8 L1688.0,1043.8 L1693.0,1044.9 L1698.0,1046.1 L1703.0,1047.4 L1708.0,1048.8 L1713.0,1050.3 L1718.0,1051.9 L1723.0,1053.6 L1728.0,1055.4 L1733.0,1057.2 L1738.0,1059.2 L1743.0,1061.3 L1748.0,1063.5 L1753.0,1065.7 L1758.0,1068.1 L1763.0,1070.5 L1768.0,1073.1 L1773.0,1075.7 L1778.0,1078.4 L1783.0,1081.2 L1788.0,1084.0 L1793.0,1086.9 L1798.0,1089.8 L1803.0,1092.8 L1808.0,1095.8 L1813.0,1098.8 L1818.0,1101.8 L1823.0,1104.8 L1828.0,1107.8 L1833.0,1110.8 L1838.0,1113.8 L1843.0,1116.7 L1848.0,1119.6 L1853.0,1122.5 L1858.0,1125.3 L1863.0,1128.0 L1868.0,1130.7 L1873.0,1133.3 L1878.0,1135.8 L1883.0,1138.3 L1888.0,1140.7 L1893.0,1143.1 L1898.0,1145.4 L1903.0,1147.6 L1908.0,1149.9 L1913.0,1152.0 L1918.0,1154.2 L1923.0,1156.3 L1928.0,1158.4 L1933.0,1160.4 L1938.0,1162.4 L1943.0,1164.4 L1948.0,1166.3 L1953.0,1168.3 L1958.0,1170.2 L1963.0,1172.1 L1968.0,1174.0 L1973.0,1175.9 L1978.0,1177.7 L1983.0,1179.6 L1988.0,1181.5 L1993.0,1183.3 L1998.0,1185.2 L2003.0,1187.1 L2008.0,1189.0 L2013.0,1190.9 L2018.0,1192.8 L2023.0,1194.7 L2028.0,1196.7 L2033.0,1198.7 L2038.0,1200.7 L2043.0,1202.7 L2048.0,1204.8 L2053.0,1206.8 L2058.0,1209.0 L2063.0,1211.1 L2068.0,1213.4 L2073.0,1215.6 L2078.0,1217.9"/>
<path class="curve" stroke="#000080" d="M213.0,1355.9 L218.0,1355.4 L223.0,1354.9 L228.0,1354.4 L233.0,1353.8 L238.0,1353.3 L243.0,1352.8 L248.0,1352.3 L253.0,1351.8 L258.0,1351.3 L263.0,1350.8 L268.0,1350.4 L273.0,1349.9 L278.0,1349.4 L283.0,1348.9 L288.0,1348.4 L293.0,1347.9 L298.0,1347.5 L303.0,1347.0 L308.0,1346.5 L313.0,1346.0 L318.0,1345.6 L323.0,1345.1 L328.0,1344.6 L333.0,1344.1 L338.0,1343.7 L343.0,1343.2 L348.0,1342.7 L353.0,1342.2 L358.0,1341.7 L363.0,1341.2 L368.0,1340.7 L373.0,1340.2 L378.0,1339.7 L383.0,1339.2 L388.0,1338.7 L393.0,1338.2 L398.0,1337.6 L403.0,1337.1 L408.0,1336.6 L413.0,1336.0 L418.0,1335.4 L423.0,1334.9 L428.0,1334.3 L433.0,1333.7 L438.0,1333.1 L443.0,1332.5 L448.0,1331.9 L453.0,1331.3 L458.0,1330.7 L463.0,1330.0 L468.0,1329.4 L473.0,1328.7 L478.0,1328.1 L483.0,1327.4 L488.0,1326.7 L493.0,1326.0 L498.0,1325.2 L503.0,1324.5 L508.0,1323.7 L513.0,1323.0 L518.0,1322.2 L523.0,1321.4 L528.0,1320.6 L533.0,1319.8 L538.0,1318.9 L543.0,1318.1 L548.0,1317.2 L553.0,1316.3 L558.0,1315.4 L563.0,1314.5 L568.0,1313.5 L573.0,1312.5 L578.0,1311.6 L583.0,1310.6 L588.0,1309.5 L593.0,1308.5 L598.0,1307.4 L603.0,1306.4 L608.0,1305.3 L613.0,1304.1 L618.0,1303.0 L623.0,1301.8 L628.0,1300.6 L633.0,1299.4 L638.0,1298.2 L643.0,1296.9 L648.0,1295.6 L653.0,1294.3 L658.0,1293.0 L663.0,1291.6 L668.0,1290.3 L673.0,1288.9 L678.0,1287.4 L683.0,1286.0 L688.0,1284.5 L693.0,1283.0 L698.0,1281.4 L703.0,1279.9 L708.0,1278.3 L713.0,1276.6 L718.0,1275.0 L723.0,1273.3 L728.0,1271.6 L733.0,1269.9 L738.0,1268.1 L743.0,1266.3 L748.0,1264.4 L753.0,1262.6 L758.0,1260.7 L763.0,1258.8 L768.0,1256.8 L773.0,1254.8 L778.0,1252.8 L783.0,1250.7 L788.0,1248.6 L793.0,1246.5 L798.0,1244.3 L803.0,1242.2 L808.0,1239.9 L813.0,1237.7 L818.0,1235.4 L823.0,1233.0 L828.0,1230.6 L833.0,1228.2 L838.0,1225.8 L843.0,1223.3 L848.0,1220.8 L853.0,1218.2 L858.0,1215.6 L863.0,1213.0 L868.0,1210.3 L873.0,1207.6 L878.0,1204.8 L883.0,1202.0 L888.0,1199.2 L893.0,1196.4 L898.0,1193.5 L903.0,1190.6 L908.0,1187.7 L913.0,1184.7 L918.0,1181.8 L923.0,1178.9 L928.0,1175.9 L933.0,1173.0 L938.0,1170.0 L943.0,1167.1 L948.0,1164.1 L953.0,1161.2 L958.0,1158.3 L963.0,1155.4 L968.0,1152.6 L973.0,1149.7 L978.0,1146.9 L983.0,1144.2 L988.0,1141.4 L993.0,1138.7 L998.0,1136.1 L1003.0,1133.5 L1008.0,1130.9 L1013.0,1128.4 L1018.0,1125.9 L1023.0,1123.5 L1028.0,1121.2 L1033.0,1119.0 L1038.0,1116.8 L1043.0,1114.6 L1048.0,1112.6 L1053.0,1110.6 L1058.0,1108.7 L1063.0,1106.8 L1068.0,1105.1 L1073.0,1103.4 L1078.0,1101.8 L1083.0,1100.3 L1088.0,1098.9 L1093.0,1097.6 L1098.0,1096.3 L1103.0,1095.2 L1108.0,1094.1 L1113.0,1093.2 L1118.0,1092.3 L1123.0,1091.6 L1128.0,1090.9 L1133.0,1090.4 L1138.0,1089.9 L1143.0,1089.5 L1148.0,1089.3 L1153.0,1089.1 L1158.0,1089.0 L1163.0,1089.1 L1168.0,1089.2 L1173.0,1089.4 L1178.0,1089.7 L1183.0,1090.1 L1188.0,1090.5 L1193.0,1091.1 L1198.0,1091.8 L1203.0,1092.5 L1208.0,1093.4 L1213.0,1094.3 L1218.0,1095.3 L1223.0,1096.4 L1228.0,1097.6 L1233.0,1098.8 L1238.0,1100.1 L1243.0,1101.6 L1248.0,1103.0 L1253.0,1104.6 L1258.0,1106.2 L1263.0,1107.9 L1268.0,1109.7 L1273.0,1111.5 L1278.0,1113.4 L1283.0,1115.3 L1288.0,1117.3 L1293.0,1119.4 L1298.0,1121.5 L1303.0,1123.7 L1308.0,1125.9 L1313.0,1128.1 L1318.0,1130.4 L1323.0,1132.8 L1328.0,1135.2 L1333.0,1137.6 L1338.0,1140.0 L1343.0,1142.5 L1348.0,1145.0 L1353.0,1147.6 L1358.0,1150.2 L1363.0,1152.8 L1368.0,1155.4 L1373.0,1158.0 L1378.0,1160.7 L1383.0,1163.4 L1388.0,1166.1 L1393.0,1168.8 L1398.0,1171.5 L1403.0,1174.2 L1408.0,1176.9 L1413.0,1179.7 L1418.0,1182.4 L1423.0,1185.1 L1428.0,1187.9 L1433.0,1190.6 L1438.0,1193.3 L1443.0,1196.0 L1448.0,1198.7 L1453.0,1201.4 L1458.0,1204.1 L1463.0,1206.7 L1468.0,1209.4 L1473.0,1212.0 L1478.0,1214.6 L1483.0,1217.2 L1488.0,1219.7 L1493.0,1222.2 L1498.0,1224.8 L1503.0,1227.2 L1508.0,1229.7 L1513.0,1232.2 L1518.0,1234.6 L1523.0,1237.0 L1528.0,1239.4 L1533.0,1241.7 L1538.0,1244.1 L1543.0,1246.4 L1548.0,1248.7 L1553.0,1251.0 L1558.0,1253.2 L1563.0,1255.4 L1568.0,1257.6 L1573.0,1259.8 L1578.0,1261.9 L1583.0,1264.0 L1588.0,1266.1 L1593.0,1268.2 L1598.0,1270.2 L1603.0,1272.2 L1608.0,1274.2 L1613.0,1276.2 L1618.0,1278.1 L1623.0,1280.0 L1628.0,1281.9 L1633.0,1283.7 L1638.0,1285.5 L1643.0,1287.3 L1648.0,1289.0 L1653.0,1290.8 L1658.0,1292.5 L1663.0,1294.1 L1668.0,1295.7 L1673.0,1297.3 L1678.0,1298.9 L1683.0,1300.5 L1688.0,1302.0 L1693.0,1303.4 L1698.0,1304.9 L1703.0,1306.3 L1708.0,1307.7 L1713.0,1309.1 L1718.0,1310.4 L1723.0,1311.7 L1728.0,1313.0 L1733.0,1314.2 L1738.0,1315.5 L1743.0,1316.7 L1748.0,1317.8 L1753.0,1319.0 L1758.0,1320.1 L1763.0,1321.2 L1768.0,1322.3 L1773.0,1323.3 L1778.0,1324.3 L1783.0,1325.3 L1788.0,1326.3 L1793.0,1327.3 L1798.0,1328.2 L1803.0,1329.1 L1808.0,1330.0 L1813.0,1330.9 L1818.0,1331.7 L1823.0,1332.5 L1828.0,1333.3 L1833.0,1334.1 L1838.0,1334.9 L1843.0,1335.6 L1848.0,1336.3 L1853.0,1337.1 L1858.0,1337.7 L1863.0,1338.4 L1868.0,1339.0 L1873.0,1339.7 L1878.0,1340.3 L1883.0,1340.9 L1888.0,1341.5 L1893.0,1342.0 L1898.0,1342.6 L1903.0,1343.1 L1908.0,1343.6 L1913.0,1344.1 L1918.0,1344.6 L1923.0,1345.1 L1928.0,1345.5 L1933.0,1346.0 L1938.0,1346.4 L1943.0,1346.8 L1948.0,1347.2 L1953.0,1347.6 L1958.0,1347.9 L1963.0,1348.3 L1968.0,1348.7 L1973.0,1349.0 L1978.0,1349.3 L1983.0,1349.6 L1988.0,1350.0 L1993.0,1350.3 L1998.0,1350.5 L2003.0,1350.8 L2008.0,1351.1 L2013.0,1351.3 L2018.0,1351.6 L2023.0,1351.8 L2028.0,1352.1 L2033.0,1352.3 L2038.0,1352.5 L2043.0,1352.7 L2048.0,1352.9 L2053.0,1353.1 L2058.0,1353.3 L2063.0,1353.5 L2068.0,1353.7 L2073.0,1353.9 L2078.0,1354.1"/>
</g>
<line class="dash" stroke="#000000" x1="1133" y1="211" x2="1133" y2="1276.5"/>
<line class="dash" stroke="#ff0000" x1="1351.5" y1="213.4" x2="1351.5" y2="1278.9"/>
<text transform="translate(243.16,79.00) scale(1,1.04)" font-size="51.5" letter-spacing="-0.18">Poly(Coumarin-COOH BZ)/PVP</text>
<text transform="translate(232.28,389.00) scale(1,1.04)" font-size="51.5" letter-spacing="-0.242">(a) 100/0</text>
<text transform="translate(230.78,656.00) scale(1,1.04)" font-size="51.5" letter-spacing="-0.1">(b) 80/20</text>
<text transform="translate(226.26,795.00) scale(1,1.04)" font-size="51.5" letter-spacing="-0.26">(c) 60/40</text>
<text transform="translate(230.78,921.00) scale(1,1.04)" font-size="51.5" letter-spacing="-0.1">(d) 50/50</text>
<text transform="translate(237.26,1059.00) scale(1,1.04)" font-size="51.5" letter-spacing="-0.16">(e) 40/60</text>
<text transform="translate(234.62,1176.00) scale(1,1.04)" font-size="51.5" letter-spacing="-0.1">(f) 20/80</text>
<text transform="translate(227.94,1317.00) scale(1,1.04)" font-size="51.5" letter-spacing="-0.16">(g) 0/100</text>
<text transform="translate(1045.08,155.00) scale(1,1.04)" font-size="51.5" letter-spacing="-0.377">1678 cm<tspan font-size="31" x="194.42" y="-24.04" letter-spacing="0">-1</tspan></text>
<text transform="translate(1297.56,150.00) scale(1,1.04)" font-size="51.5" letter-spacing="-0.425">1645 cm<tspan font-size="31" x="193.14" y="-24.04" letter-spacing="0">-1</tspan></text>
<text transform="translate(160.96,1473.00) scale(1,1.04)" font-size="55.5" letter-spacing="0.818">1800</text>
<text transform="translate(529.32,1473.00) scale(1,1.04)" font-size="55.5" letter-spacing="0.972">1750</text>
<text transform="translate(898.16,1473.00) scale(1,1.04)" font-size="55.5" letter-spacing="1.085">1700</text>
<text transform="translate(1267.64,1473.00) scale(1,1.04)" font-size="55.5" letter-spacing="1.133">1650</text>
<text transform="translate(1637.80,1473.00) scale(1,1.04)" font-size="55.5" letter-spacing="0.815">1600</text>
<text transform="translate(2005.52,1473.00) scale(1,1.04)" font-size="55.5" letter-spacing="1.183">1550</text>
<text transform="translate(836.44,1593.00) scale(1,1.04)" font-size="70" letter-spacing="0.393">Wavenumber (cm<tspan font-size="42" x="558.06" y="-32.69" letter-spacing="0">-1</tspan><tspan x="598.86" y="0">)</tspan></text>
<text transform="translate(65.10,1028.88) rotate(-90) scale(1,1.04)" font-size="70" letter-spacing="0.33">Absorbance (a.u.)</text>
</svg>
</body>
</html>
